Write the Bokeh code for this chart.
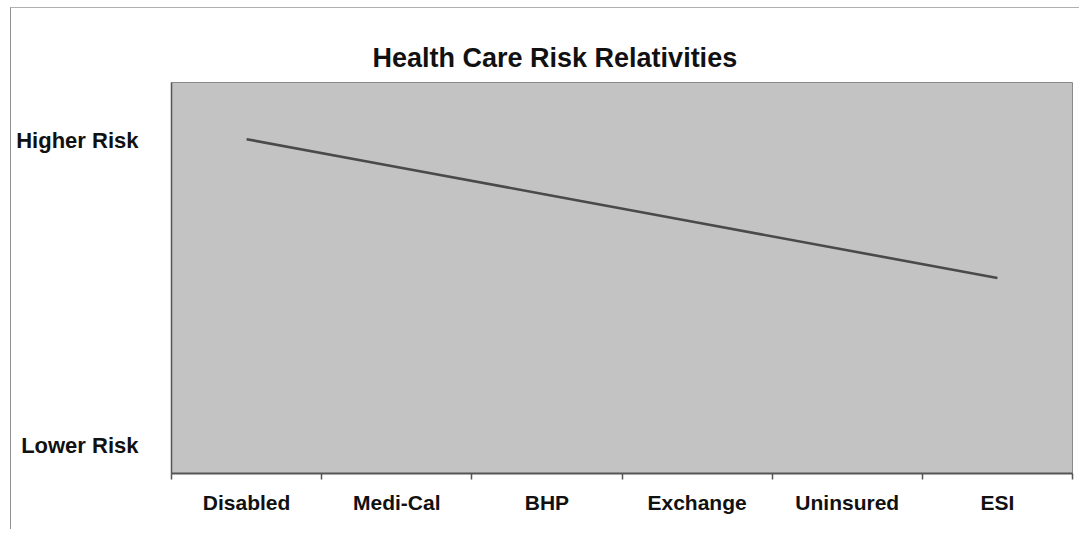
from bokeh.plotting import figure
from bokeh.models import FixedTicker, Range1d
from bokeh.embed import file_html
from bokeh.resources import INLINE

# ---- data ----
categories = ["Disabled", "Medi-Cal", "BHP", "Exchange", "Uninsured", "ESI"]
risk_values = [0.855, 0.784, 0.713, 0.642, 0.571, 0.500]
y_tick_values = [0.071, 0.851]
y_tick_labels = ["Lower Risk", "Higher Risk"]

FONT = "Liberation Sans"

x_pos = [i + 0.5 for i in range(len(categories))]
boundaries = list(range(len(categories) + 1))

p = figure(width=1069, height=522, output_backend="svg", toolbar_location=None,
           x_range=Range1d(0, len(categories)), y_range=Range1d(0, 1),
           title="Health Care Risk Relativities")

p.min_border_left = 160
p.min_border_right = 8
p.min_border_top = 74
p.min_border_bottom = 57
p.border_fill_color = "white"
p.styles = {"margin-left": "10px", "margin-top": "7px",
            "border-top": "1px solid #b0b0b0", "border-left": "1px solid #909090"}

p.title.text_font = FONT
p.title.text_font_size = "27px"
p.title.text_font_style = "bold"
p.title.text_color = "#111111"
p.title.align = "left"
p.title.offset = 201
p.title.standoff = 19

p.background_fill_color = "#c3c3c3"
p.outline_line_color = "#8a8a8a"
p.outline_line_width = 1
p.grid.visible = False

p.line(x_pos, risk_values, line_color="#4a4a4a", line_width=2.6)

# x axis
xa = p.xaxis[0]
xa.ticker = FixedTicker(ticks=x_pos, minor_ticks=boundaries)
xa.major_label_overrides = {x: c for x, c in zip(x_pos, categories)}
xa.major_tick_line_color = None
xa.major_tick_out = 0
xa.major_tick_in = 0
xa.minor_tick_out = 6
xa.minor_tick_in = 0
xa.minor_tick_line_color = "#555555"
xa.minor_tick_line_width = 1.5
xa.axis_line_color = "#555555"
xa.axis_line_width = 2
xa.major_label_standoff = 11
xa.major_label_text_font = FONT
xa.major_label_text_font_size = "21px"
xa.major_label_text_font_style = "bold"
xa.major_label_text_color = "#111111"

# y axis
ya = p.yaxis[0]
ya.ticker = FixedTicker(ticks=y_tick_values, minor_ticks=[])
ya.major_label_overrides = {v: t for v, t in zip(y_tick_values, y_tick_labels)}
ya.major_tick_line_color = None
ya.major_tick_out = 0
ya.major_tick_in = 0
ya.minor_tick_line_color = None
ya.axis_line_color = "#555555"
ya.axis_line_width = 1.5
ya.major_label_standoff = 33
ya.major_label_text_font = FONT
ya.major_label_text_font_size = "22px"
ya.major_label_text_font_style = "bold"
ya.major_label_text_color = "#111111"

open("out.html", "w").write(file_html(p, INLINE))
